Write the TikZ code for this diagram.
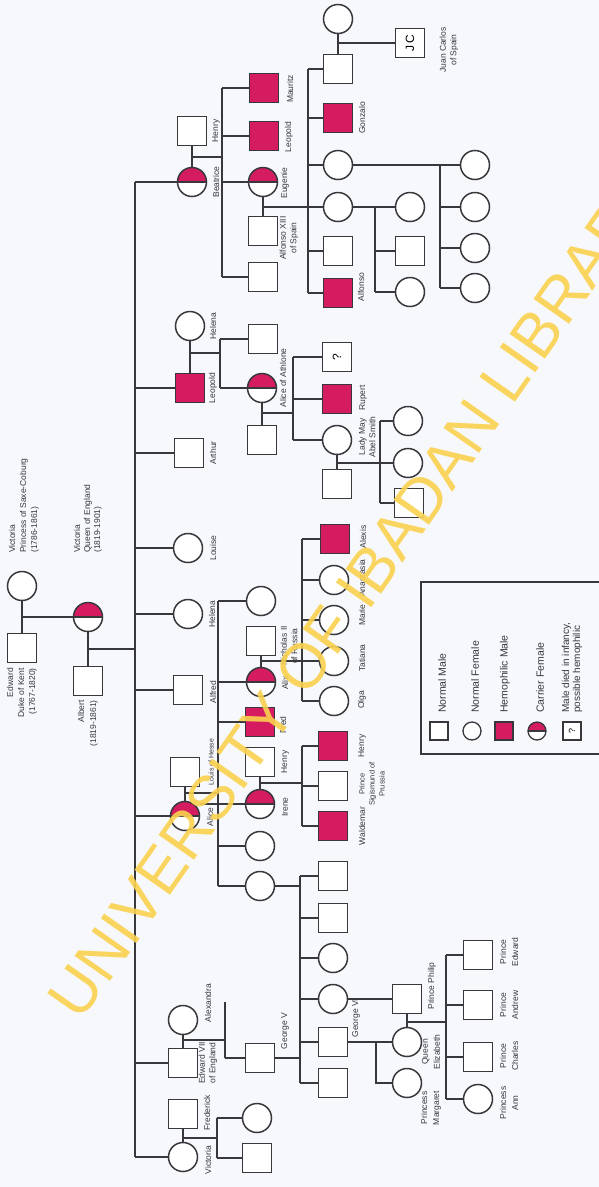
\documentclass[tikz,border=0pt]{standalone}
\usepackage{fontspec}
\setmainfont{Liberation Sans}
\definecolor{hemo}{RGB}{214,28,96}
\definecolor{ink}{RGB}{55,55,60}
\definecolor{wm}{RGB}{250,210,80}
\definecolor{bg}{RGB}{247,248,251}
\tikzset{
  pline/.style={draw=ink, line width=1.5pt},
  male/.style={rectangle, draw=ink, line width=1.5pt, minimum size=29pt, inner sep=0pt, fill=white},
  female/.style={circle, draw=ink, line width=1.5pt, minimum size=29pt, inner sep=0pt, fill=white},
  hemom/.style={male, fill=hemo},
  carrier/.style={female, path picture={
      \fill[hemo] (path picture bounding box.west) rectangle (path picture bounding box.north east);
      \draw[ink, line width=1.2pt] (path picture bounding box.west) -- (path picture bounding box.east);}},
  lmale/.style={male, minimum size=18pt, line width=1.3pt},
  lfemale/.style={female, minimum size=18pt, line width=1.3pt},
  lhemo/.style={hemom, minimum size=18pt, line width=1.3pt},
  lcarrier/.style={carrier, minimum size=18pt, line width=1.3pt},
  lab/.style={rotate=90, inner sep=0pt, font=\fontsize{8.5}{10.5}\selectfont, text=ink, align=center},
  leglab/.style={rotate=90, inner sep=0pt, font=\fontsize{10.5}{11}\selectfont, text=ink, align=left, anchor=west},
}
\begin{document}
\begin{tikzpicture}[x=1pt,y=-1pt]
\fill[bg] (0,0) rectangle (599,1187);
\useasboundingbox (0,0) rectangle (599,1187);

% ---------- generation 0 ----------
\node[female] (vsc) at (22,586) {};
\node[male] (edw) at (22,648) {};
\node[carrier] (vq) at (88,617) {};
\node[male] (alb) at (88,681) {};
\coordinate (j0) at (22,617);
\coordinate (j1) at (88,649);
\draw[pline] (vsc) -- (edw);
\draw[pline] (j0) -- (vq);
\draw[pline] (vq) -- (alb);

% main sibship line
\coordinate (mtop) at (135,182);
\coordinate (mbot) at (135,1157);
\draw[pline] (mtop) -- (mbot);
\draw[pline] (j1) -- (j1 -| mtop);

% ---------- generation 1 ----------
\node[male] (henA) at (192,131) {};
\node[carrier] (bea) at (192,182) {};
\node[female] (helA) at (190,326) {};
\node[hemom] (leoA) at (190,388) {};
\node[male] (art) at (189,453) {};
\node[female] (lou) at (188,548) {};
\node[female] (helB) at (188,614) {};
\node[male] (alf) at (188,690) {};
\node[male] (louis) at (185,772) {};
\node[carrier] (alice) at (185,816) {};
\node[female] (alex) at (183,1020) {};
\node[male] (edB) at (183,1063) {};
\node[male] (fred) at (183,1114) {};
\node[female] (vicB) at (183,1157) {};

\draw[pline] (mtop) -- (bea);
\draw[pline] (mtop |- leoA) -- (leoA);
\draw[pline] (mtop |- art) -- (art);
\draw[pline] (mtop |- lou) -- (lou);
\draw[pline] (mtop |- helB) -- (helB);
\draw[pline] (mtop |- alf) -- (alf);
\draw[pline] (mtop |- alice) -- (alice);
\draw[pline] (mtop |- edB) -- (edB);
\draw[pline] (mbot) -- (vicB);

% ---------- Beatrice family ----------
\node[hemom] (mau) at (264,88) {};
\node[hemom] (leoB) at (264,136) {};
\node[carrier] (eug) at (263,182) {};
\node[male] (sqB) at (263,277) {};
\coordinate (jB) at (192,157);
\coordinate (sBtop) at (222,88);
\coordinate (sBbot) at (222,277);
\draw[pline] (henA) -- (bea);
\draw[pline] (jB) -- (jB -| sBtop);
\draw[pline] (sBtop) -- (sBbot);
\draw[pline] (sBtop) -- (mau);
\draw[pline] (sBtop |- leoB) -- (leoB);
\draw[pline] (sBtop |- eug) -- (eug);
\draw[pline] (sBbot) -- (sqB);

% ---------- Eugenie family ----------
\node[male] (a13) at (263,231) {};
\node[female] (cE0) at (338,19) {};
\node[male] (sqE1) at (338,69) {};
\node[hemom] (gon) at (338,118) {};
\node[female] (cE1) at (338,165) {};
\node[female] (cE2) at (338,207) {};
\node[male] (sqE3) at (338,251) {};
\node[hemom] (alfo) at (338,293) {};
\node[male, font=\fontsize{12}{12}\selectfont] (jc) at (410,43) {\rotatebox{90}{J\,C}};
\coordinate (jE) at (263,207);
\coordinate (sEtop) at (308,69);
\coordinate (sEbot) at (308,293);
\coordinate (jJ) at (338,43);
\draw[pline] (eug) -- (a13);
\draw[pline] (jE) -- (cE2);
\draw[pline] (sEtop) -- (sEbot);
\draw[pline] (sEtop) -- (sqE1);
\draw[pline] (sEtop |- gon) -- (gon);
\draw[pline] (sEtop |- cE1) -- (cE1);
\draw[pline] (sEtop |- sqE3) -- (sqE3);
\draw[pline] (sEbot) -- (alfo);
\draw[pline] (cE0) -- (sqE1);
\draw[pline] (jJ) -- (jc);

% cE1 children
\node[female] (gF1) at (475,165) {};
\node[female] (gF2) at (475,207) {};
\node[female] (gF3) at (475,248) {};
\node[female] (gF4) at (475,288) {};
\coordinate (sFtop) at (440,165);
\coordinate (sFbot) at (440,288);
\draw[pline] (cE1) -- (gF1);
\draw[pline] (sFtop) -- (sFbot);
\draw[pline] (sFtop |- gF2) -- (gF2);
\draw[pline] (sFtop |- gF3) -- (gF3);
\draw[pline] (sFbot) -- (gF4);

% cE2 children
\node[female] (gG1) at (410,207) {};
\node[male] (gG2) at (410,251) {};
\node[female] (gG3) at (410,292) {};
\coordinate (sGtop) at (375,207);
\coordinate (sGbot) at (375,292);
\draw[pline] (cE2) -- (gG1);
\draw[pline] (sGtop) -- (sGbot);
\draw[pline] (sGtop |- gG2) -- (gG2);
\draw[pline] (sGbot) -- (gG3);

% ---------- Leopold family ----------
\node[male] (sqL) at (263,339) {};
\node[carrier] (aoa) at (262,388) {};
\node[male] (sqL2) at (262,440) {};
\coordinate (jL) at (190,353);
\coordinate (sLtop) at (220,339);
\coordinate (sLbot) at (220,388);
\draw[pline] (helA) -- (leoA);
\draw[pline] (jL) -- (jL -| sLtop);
\draw[pline] (sLtop) -- (sLbot);
\draw[pline] (sLtop) -- (sqL);
\draw[pline] (sLbot) -- (aoa);

\node[male, font=\fontsize{12}{12}\selectfont] (qm) at (337,357) {\rotatebox{90}{?}};
\node[hemom] (rup) at (337,399) {};
\node[female] (lmay) at (337,440) {};
\node[male] (abel) at (337,484) {};
\coordinate (jA) at (262,413);
\coordinate (sAtop) at (293,357);
\coordinate (sAbot) at (293,440);
\draw[pline] (aoa) -- (sqL2);
\draw[pline] (jA) -- (jA -| sAtop);
\draw[pline] (sAtop) -- (sAbot);
\draw[pline] (sAtop) -- (qm);
\draw[pline] (sAtop |- rup) -- (rup);
\draw[pline] (sAbot) -- (lmay);

\node[female] (gM1) at (408,421) {};
\node[female] (gM2) at (408,463) {};
\node[male] (gM3) at (409,503) {};
\coordinate (jM) at (337,463);
\coordinate (sMtop) at (380,421);
\coordinate (sMbot) at (380,503);
\draw[pline] (lmay) -- (abel);
\draw[pline] (jM) -- (gM2);
\draw[pline] (sMtop) -- (sMbot);
\draw[pline] (sMtop) -- (gM1);
\draw[pline] (sMbot) -- (gM3);

% ---------- Alice family ----------
\node[female] (cH1) at (261,601) {};
\node[male] (nic) at (261,641) {};
\node[carrier] (alix) at (261,682) {};
\node[hemom] (fredB) at (260,722) {};
\node[male] (henB) at (260,762) {};
\node[carrier] (irene) at (260,804) {};
\node[female] (cH5) at (260,846) {};
\node[female] (cH6) at (260,886) {};
\coordinate (jH) at (185,793);
\coordinate (sHtop) at (218,601);
\coordinate (sHbot) at (218,886);
\coordinate (iL) at (200,804);
\draw[pline] (louis) -- (alice);
\draw[pline] (jH) -- (jH -| sHtop);
\draw[pline] (sHtop) -- (sHbot);
\draw[pline] (sHtop) -- (cH1);
\draw[pline] (sHtop |- alix) -- (alix);
\draw[pline] (sHtop |- fredB) -- (fredB);
\draw[pline] (iL) -- (irene);
\draw[pline] (sHtop |- cH5) -- (cH5);
\draw[pline] (sHbot) -- (cH6);

% Alix children
\node[hemom] (alexis) at (335,539) {};
\node[female] (anas) at (334,580) {};
\node[female] (marie) at (334,620) {};
\node[female] (tat) at (334,661) {};
\node[female] (olga) at (334,701) {};
\coordinate (jN) at (261,661);
\coordinate (sNtop) at (302,539);
\coordinate (sNbot) at (302,701);
\draw[pline] (nic) -- (alix);
\draw[pline] (jN) -- (tat);
\draw[pline] (sNtop) -- (sNbot);
\draw[pline] (sNtop) -- (alexis);
\draw[pline] (sNtop |- anas) -- (anas);
\draw[pline] (sNtop |- marie) -- (marie);
\draw[pline] (sNbot) -- (olga);

% Irene children
\node[hemom] (henC) at (333,746) {};
\node[male] (sig) at (333,786) {};
\node[hemom] (wal) at (333,826) {};
\coordinate (jI) at (260,783);
\coordinate (sItop) at (302,746);
\coordinate (sIbot) at (302,826);
\draw[pline] (henB) -- (irene);
\draw[pline] (jI) -- (jI -| sItop);
\draw[pline] (sItop) -- (sIbot);
\draw[pline] (sItop) -- (henC);
\draw[pline] (sItop |- sig) -- (sig);
\draw[pline] (sIbot) -- (wal);

% ---------- George V line ----------
\node[male] (g5) at (260,1058) {};
\node[male] (k1) at (333,876) {};
\node[male] (k2) at (333,918) {};
\node[female] (k3) at (333,958) {};
\node[female] (k4) at (333,999) {};
\node[male] (g6) at (333,1042) {};
\node[male] (k6) at (333,1083) {};
\coordinate (sKtop) at (300,876);
\coordinate (sKbot) at (300,1083);
\coordinate (jX) at (183,1040);
\coordinate (sXtop) at (225,1002);
\coordinate (sXbot) at (225,1058);
\draw[pline] (cH6) -- (cH6 -| sKtop);
\draw[pline] (sKtop) -- (sKbot);
\draw[pline] (sKtop) -- (k1);
\draw[pline] (sKtop |- k2) -- (k2);
\draw[pline] (sKtop |- k3) -- (k3);
\draw[pline] (sKtop |- k4) -- (k4);
\draw[pline] (sKtop |- g6) -- (g6);
\draw[pline] (sKbot) -- (k6);
\draw[pline] (g5) -- (g5 -| sKtop);
\draw[pline] (alex) -- (edB);
\draw[pline] (jX) -- (jX -| sXtop);
\draw[pline] (sXtop) -- (sXbot);
\draw[pline] (sXbot) -- (g5);

% Elizabeth II family
\node[male] (phil) at (407,999) {};
\node[female] (qe) at (407,1042) {};
\node[female] (pm) at (407,1083) {};
\node[male] (pe) at (478,955) {};
\node[male] (pa) at (478,1005) {};
\node[male] (pc) at (478,1057) {};
\node[female] (pan) at (478,1099) {};
\coordinate (sQbot) at (376,1083);
\coordinate (jP) at (407,1022);
\coordinate (sPtop) at (446,955);
\coordinate (sPbot) at (446,1099);
\draw[pline] (k4) -- (phil);
\draw[pline] (g6) -- (qe);
\draw[pline] (sQbot |- qe) -- (sQbot) -- (pm);
\draw[pline] (phil) -- (qe);
\draw[pline] (jP) -- (jP -| sPtop);
\draw[pline] (sPtop) -- (sPbot);
\draw[pline] (sPtop) -- (pe);
\draw[pline] (sPtop |- pa) -- (pa);
\draw[pline] (sPtop |- pc) -- (pc);
\draw[pline] (sPbot) -- (pan);

% ---------- Frederick family ----------
\node[female] (sophie) at (257,1118) {};
\node[male] (wil) at (257,1158) {};
\coordinate (jF) at (183,1138);
\coordinate (sWtop) at (217,1118);
\coordinate (sWbot) at (217,1158);
\draw[pline] (fred) -- (vicB);
\draw[pline] (jF) -- (jF -| sWtop);
\draw[pline] (sWtop) -- (sWbot);
\draw[pline] (sWtop) -- (sophie);
\draw[pline] (sWbot) -- (wil);

% ---------- labels ----------
\node[lab, anchor=west, align=left, font=\fontsize{8.5}{11}\selectfont] (tVsc) at (24,553) {Victoria\\Princess of Saxe-Coburg\\(1786-1861)};
\node[lab, anchor=west, align=left, font=\fontsize{8.5}{10}\selectfont] (tVq) at (88,553) {Victoria\\Queen of England\\(1819-1901)};
\node[lab, anchor=east, align=right, font=\fontsize{8.5}{11}\selectfont] (tEdw) at (22,668) {Edward\\Duke of Kent\\(1767-1820)};
\node[lab, anchor=east, align=right, font=\fontsize{8.5}{12}\selectfont] (tAlb) at (88,700) {Albert\\(1819-1861)};

\node[lab] (tHenA) at (216,131) {Henry};
\node[lab] (tBea) at (216,182) {Beatrice};
\node[lab] (tHelA) at (213,326) {Helena};
\node[lab] (tLeoA) at (213,388) {Leopold};
\node[lab] (tArt) at (213,453) {Arthur};
\node[lab] (tLou) at (213,548) {Louise};
\node[lab] (tHelB) at (212,614) {Helena};
\node[lab] (tAlf) at (213,692) {Alfred};
\node[lab, font=\fontsize{7}{9}\selectfont] (tLouis) at (211,762) {Louis of Hesse};
\node[lab] (tAlice) at (210,817) {Alice};
\node[lab] (tAlex) at (208,1003) {Alexandra};
\node[lab] (tEdB) at (208,1063) {Edward VII\\of England};
\node[lab] (tFred) at (207,1113) {Frederick};
\node[lab] (tVicB) at (208,1160) {Victoria};

\node[lab] (tMau) at (290,89) {Mauritz};
\node[lab] (tLeoB) at (289,137) {Leopold};
\node[lab] (tEug) at (285,183) {Eugenie};
\node[lab] (tA13) at (289,238) {Alfonso XIII\\of Spain};
\node[lab] (tAoa) at (283,378) {Alice of Athlone};
\node[lab] (tNic) at (289,646) {Nicholas II\\of Russia};
\node[lab] (tAlix) at (285,683) {Alix};
\node[lab] (tFredB) at (283,725) {Fred};
\node[lab] (tHenB) at (285,762) {Henry};
\node[lab] (tIrene) at (285,807) {Irene};
\node[lab] (tG5) at (285,1031) {George V};

\node[lab] (tGon) at (362,118) {Gonzalo};
\node[lab] (tAlfo) at (361,287) {Alfonso};
\node[lab] (tJc) at (449,50) {Juan Carlos\\of Spain};
\node[lab] (tRup) at (363,398) {Rupert};
\node[lab] (tLmay) at (367,437) {Lady May\\Abel Smith};
\node[lab] (tAlexis) at (363,537) {Alexis};
\node[lab] (tAnas) at (362,578) {Anastasia};
\node[lab] (tMarie) at (362,615) {Marie};
\node[lab] (tTat) at (362,658) {Tatiana};
\node[lab] (tOlga) at (362,700) {Olga};
\node[lab] (tHenC) at (362,746) {Henry};
\node[lab, font=\fontsize{7.5}{10}\selectfont] (tSig) at (372,784) {Prince\\Sigismund of\\Prussia};
\node[lab] (tWal) at (362,826) {Waldemar};
\node[lab] (tG6) at (356,1018) {George VI};
\node[lab] (tPhil) at (432,986) {Prince Philip};
\node[lab, font=\fontsize{8.5}{12}\selectfont] (tQe) at (431,1052) {Queen\\Elizabeth};
\node[lab, font=\fontsize{8.5}{12}\selectfont] (tPm) at (431,1108) {Princess\\Margaret};
\node[lab, font=\fontsize{8.5}{12}\selectfont] (tPe) at (509,952) {Prince\\Edward};
\node[lab, font=\fontsize{8.5}{12}\selectfont] (tPa) at (509,1005) {Prince\\Andrew};
\node[lab, font=\fontsize{8.5}{12}\selectfont] (tPc) at (509,1056) {Prince\\Charles};
\node[lab, font=\fontsize{8.5}{12}\selectfont] (tPan) at (509,1103) {Princess\\Ann};

% ---------- legend ----------
\coordinate (lgA) at (610,582);
\coordinate (lgB) at (421,582);
\coordinate (lgC) at (421,754);
\coordinate (lgD) at (610,754);
\draw[pline] (lgA) -- (lgB) -- (lgC) -- (lgD);
\node[lmale] (lg1) at (439,731) {};
\node[lfemale] (lg2) at (472,731) {};
\node[lhemo] (lg3) at (504,731) {};
\node[lcarrier] (lg4) at (537,731) {};
\node[lmale, font=\fontsize{9}{9}\selectfont] (lg5) at (572,731) {\rotatebox{90}{?}};
\node[leglab] (lt1) at (442,713) {Normal Male};
\node[leglab] (lt2) at (475,713) {Normal Female};
\node[leglab] (lt3) at (505,713) {Hemophilic Male};
\node[leglab] (lt4) at (540,713) {Carrier Female};
\node[leglab, font=\fontsize{10}{11}\selectfont] (lt5) at (572,713) {Male died in infancy,\\possible hemophilic};

% ---------- watermark ----------
\node[rotate=55, text=wm, opacity=0.9, inner sep=0pt, font=\fontsize{63}{63}\selectfont] (wmk) at (356,592) {UNIVERSITY OF IBADAN LIBRARY};
\end{tikzpicture}
\end{document}
